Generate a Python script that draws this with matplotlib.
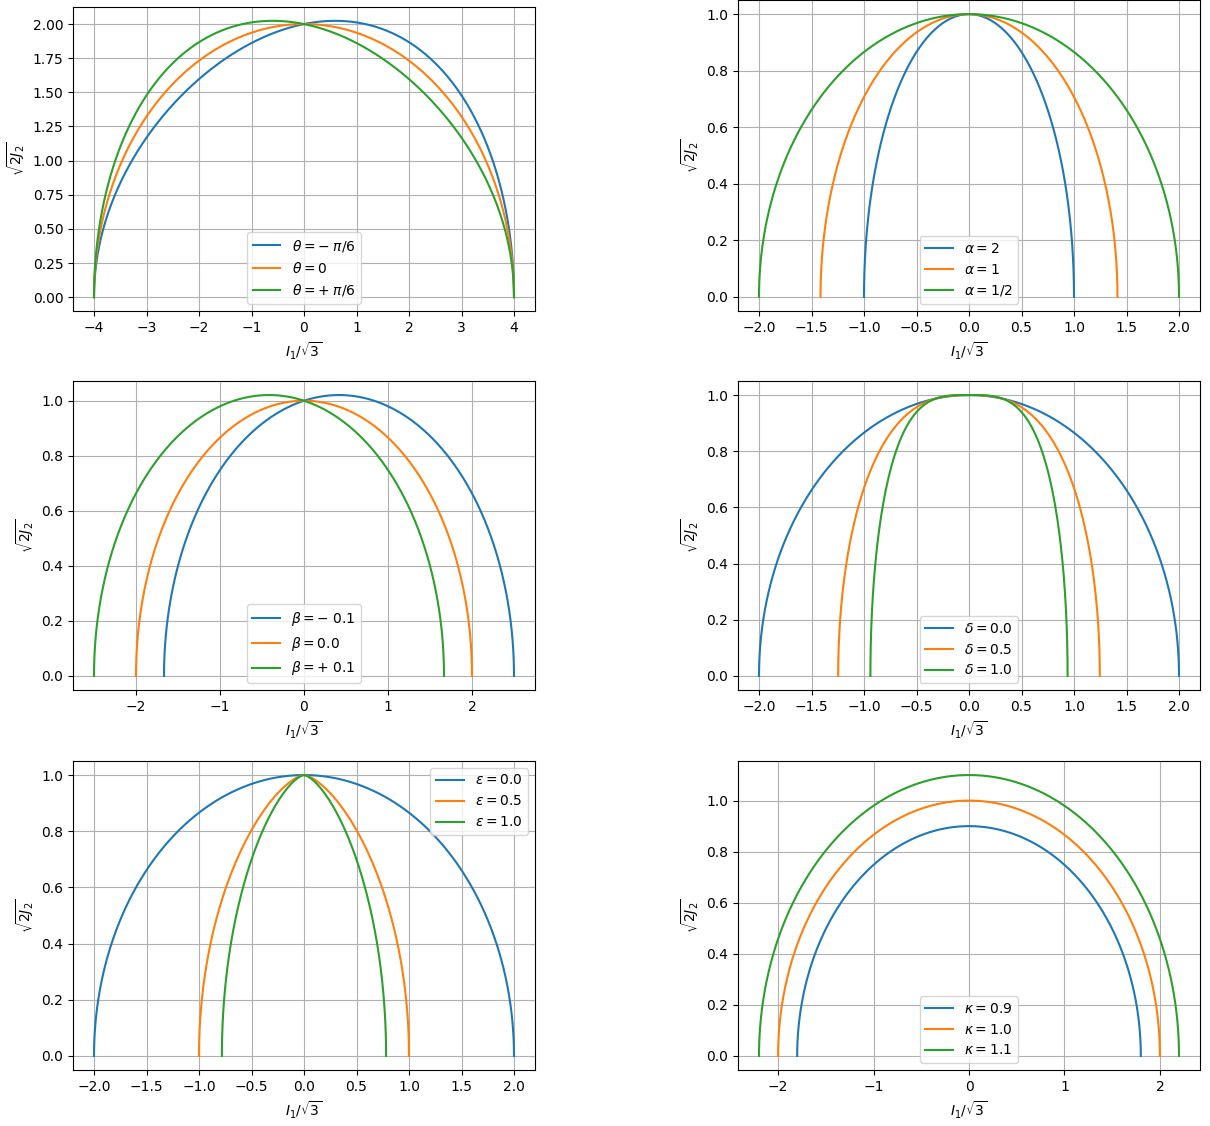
import numpy as np
import matplotlib.pyplot as plt

# parameter values shown in each panel's legend
theta_labels = [r'$\theta = -\;\pi/6$', r'$\theta = 0$', r'$\theta = +\;\pi/6$']
theta_skew = [0.039, 0.0, -0.039]      # tilt of the meridian for each Lode angle

alpha_vals = [2.0, 1.0, 0.5]
alpha_labels = [r'$\alpha = 2$', r'$\alpha = 1$', r'$\alpha = 1/2$']

beta_vals = [-0.1, 0.0, 0.1]
beta_labels = [r'$\beta = -\;0.1$', r'$\beta = 0.0$', r'$\beta = +\;0.1$']

delta_vals = [0.0, 0.5, 1.0]
delta_halfwidth = [2.0, 1.246, 0.939]
delta_power = [2.0, 2.7, 3.4]

eps_vals = [0.0, 0.5, 1.0]
eps_halfwidth = [2.0, 1.0, 0.782]
eps_power = [2.0, 1.5, 1.5]

kappa_vals = [0.9, 1.0, 1.1]

t = np.linspace(0.0, np.pi, 801)


def superellipse(a, m, h=1.0):
    c = np.cos(t)
    x = a * np.sign(c) * np.abs(c) ** (2.0 / m)
    y = h * np.sin(t)
    return x, y


def setup(ax):
    ax.grid(True)
    ax.set_xlabel(r'$I_1/\sqrt{3}$')
    ax.set_ylabel(r'$\sqrt{2J_2}$')


W, H = 1210.0, 1126.0
fig = plt.figure(figsize=(W / 100, H / 100), dpi=100)


def box(l, r, top, bot):
    return [l / W, 1 - bot / H, (r - l) / W, (bot - top) / H]


ax1 = fig.add_axes(box(73, 535, 7, 311))
ax2 = fig.add_axes(box(738, 1200, 0, 311))
ax3 = fig.add_axes(box(73, 535, 381, 690))
ax4 = fig.add_axes(box(738, 1200, 381, 690))
ax5 = fig.add_axes(box(73, 535, 761, 1070))
ax6 = fig.add_axes(box(738, 1200, 761, 1070))

# Lode angle
for c, lab in zip(theta_skew, theta_labels):
    x = 4.0 * np.cos(t)
    y = 2.0 * np.sin(t) * (1.0 + c * x)
    ax1.plot(x, y, label=lab)
setup(ax1)
ax1.legend(loc='lower center')

# alpha
for a, lab in zip(alpha_vals, alpha_labels):
    x, y = superellipse(np.sqrt(2.0 / a), 2.0)
    ax2.plot(x, y, label=lab)
setup(ax2)
ax2.legend(loc='lower center')

# beta
for b, lab in zip(beta_vals, beta_labels):
    x0 = 1.0 / (b - 0.5)
    x1 = 1.0 / (b + 0.5)
    x = x0 + (x1 - x0) * (1 - np.cos(t)) / 2
    y = np.sqrt(np.clip((1 - b * x) ** 2 - x ** 2 / 4, 0, None))
    ax3.plot(x, y, label=lab)
setup(ax3)
ax3.legend(loc='lower center')

# delta
for d, a, m in zip(delta_vals, delta_halfwidth, delta_power):
    x, y = superellipse(a, m)
    ax4.plot(x, y, label=r'$\delta = %.1f$' % d)
setup(ax4)
ax4.legend(loc='lower center')

# epsilon
for e, a, m in zip(eps_vals, eps_halfwidth, eps_power):
    x, y = superellipse(a, m)
    ax5.plot(x, y, label=r'$\varepsilon = %.1f$' % e)
setup(ax5)
ax5.legend(loc='upper right')

# kappa
for k in kappa_vals:
    x, y = superellipse(2.0 * k, 2.0, k)
    ax6.plot(x, y, label=r'$\kappa = %.1f$' % k)
setup(ax6)
ax6.legend(loc='lower center')

fig.savefig('out.png', dpi=100)
